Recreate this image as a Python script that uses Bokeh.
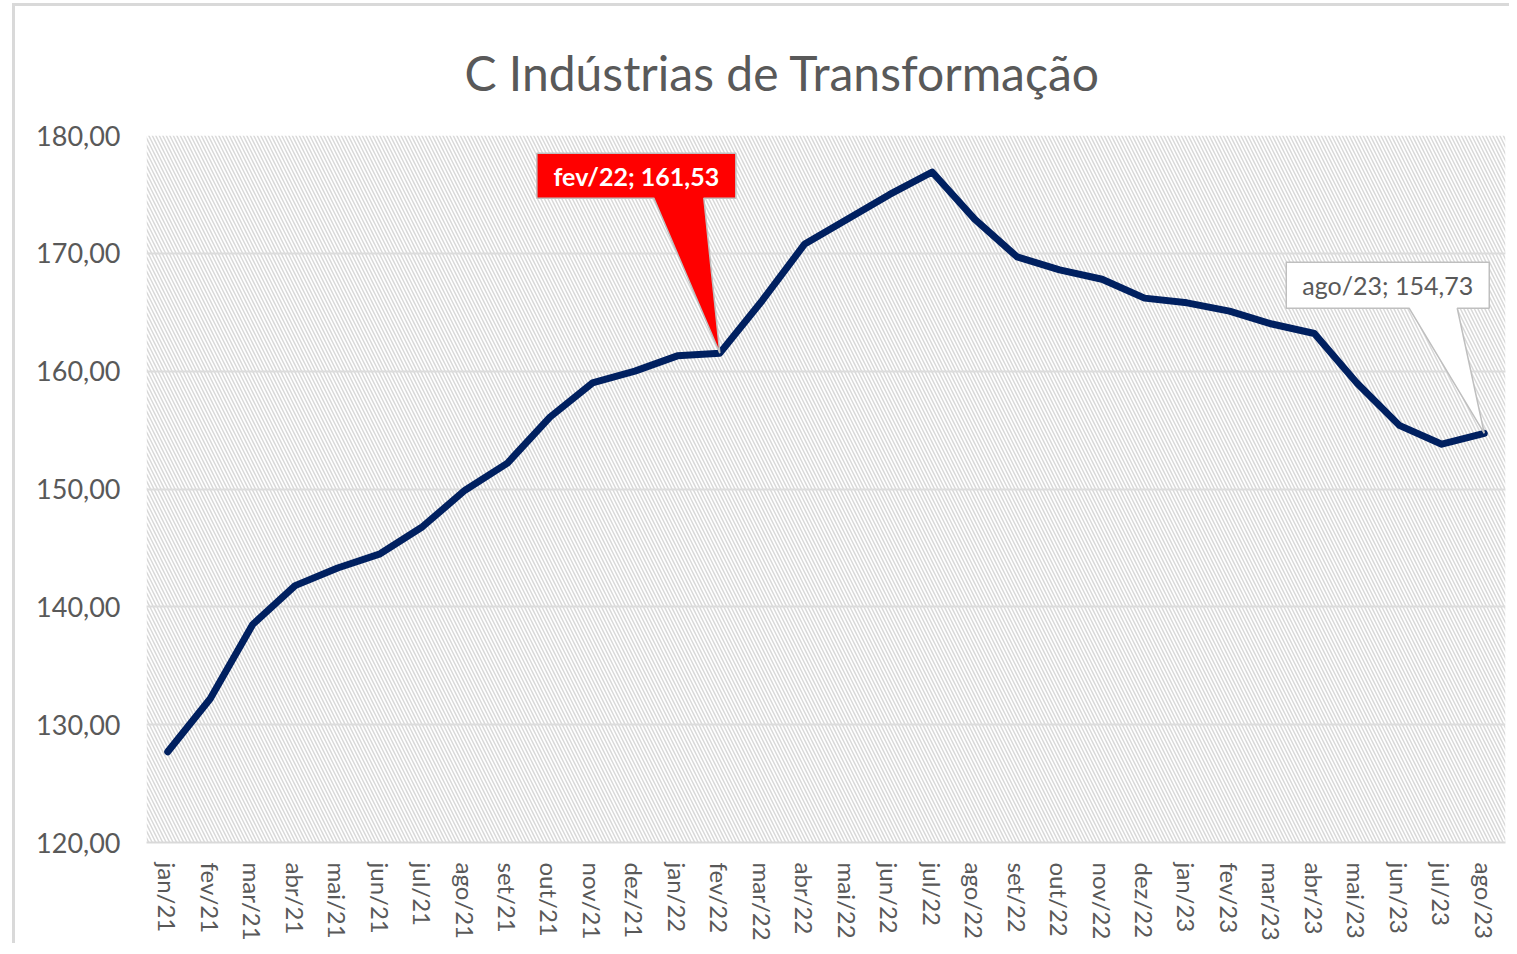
from bokeh.plotting import figure
from bokeh.models import FactorRange, Range1d, FixedTicker, BoxAnnotation, Label, Title
from bokeh.embed import file_html
from bokeh.resources import INLINE

# ---------------- data ----------------
months = ["jan/21", "fev/21", "mar/21", "abr/21", "mai/21", "jun/21", "jul/21", "ago/21",
          "set/21", "out/21", "nov/21", "dez/21", "jan/22", "fev/22", "mar/22", "abr/22",
          "mai/22", "jun/22", "jul/22", "ago/22", "set/22", "out/22", "nov/22", "dez/22",
          "jan/23", "fev/23", "mar/23", "abr/23", "mai/23", "jun/23", "jul/23", "ago/23"]
values = [127.7, 132.2, 138.5, 141.8, 143.3, 144.5, 146.8, 149.9,
          152.2, 156.1, 159.0, 160.0, 161.3, 161.53, 166.0, 170.8,
          172.9, 175.0, 176.9, 172.9, 169.7, 168.6, 167.8, 166.2,
          165.8, 165.1, 164.0, 163.2, 159.0, 155.4, 153.8, 154.73]
y_ticks = [120, 130, 140, 150, 160, 170, 180]
y_tick_labels = ["120,00", "130,00", "140,00", "150,00", "160,00", "170,00", "180,00"]
title_text = "C Indústrias de Transformação"
red_month, red_text = "fev/22", "fev/22; 161,53"
white_month, white_text = "ago/23", "ago/23; 154,73"

# ---------------- layout ----------------
FRAME_W, FRAME_H = 1359, 707
Y0, Y1 = 120, 180
FONT = "Lato"
GREY = "#595959"

p = figure(x_range=FactorRange(factors=months), y_range=Range1d(Y0, Y1),
           frame_width=FRAME_W, frame_height=FRAME_H,
           min_border_left=131, min_border_right=4, min_border_top=128, min_border_bottom=100,
           output_backend="svg", toolbar_location=None)
p.styles = {"margin-left": "12px", "margin-top": "3px",
            "border-left": "3px solid #d9d9d9", "border-top": "3px solid #d9d9d9"}
p.outline_line_color = None
p.background_fill_color = "white"
p.border_fill_color = "white"

p.title = Title(text=title_text, align="left", offset=318, standoff=70,
                text_font=FONT, text_font_size="48px", text_font_style="normal",
                text_color=GREY)

# hatch background of plot area
p.add_layout(BoxAnnotation(fill_alpha=0, line_color=None, hatch_pattern="left_diagonal_line",
                           hatch_color="#d9d9d9", hatch_scale=7, hatch_weight=1.5, level="image"))

p.xgrid.grid_line_color = None
p.ygrid.grid_line_color = "#dcdcdc"
p.ygrid.grid_line_width = 2
p.ygrid.ticker = FixedTicker(ticks=y_ticks)

p.yaxis.ticker = FixedTicker(ticks=y_ticks)
p.yaxis.major_label_overrides = {float(t): s for t, s in zip(y_ticks, y_tick_labels)}
p.yaxis.axis_line_color = None
p.yaxis.major_tick_line_color = None
p.yaxis.minor_tick_line_color = None
p.yaxis.major_label_text_font = FONT
p.yaxis.major_label_text_font_size = "27px"
p.yaxis.major_label_text_color = GREY
p.yaxis.major_label_standoff = 20

p.xaxis.axis_line_color = "#d9d9d9"
p.xaxis.axis_line_width = 2
p.xaxis.major_tick_line_color = None
p.xaxis.minor_tick_line_color = None
p.xaxis.major_label_orientation = "vertical"
p.xaxis.major_label_text_font = FONT
p.xaxis.major_label_text_font_size = "24px"
p.xaxis.major_label_text_color = GREY
p.xaxis.major_label_standoff = 14

p.line(x=months, y=values, line_color="#002060", line_width=7,
       line_join="round", line_cap="round")

# pixel -> data conversion helpers
DX = len(months) / FRAME_W
DY = (Y1 - Y0) / FRAME_H


def callout(month, text, fill, text_color, bold, box, base):
    i = months.index(month)
    tx, ty = i + 0.5, values[i]
    (bx0, bx1, by0, by1), (px0, px1) = box, base
    pts = [(bx0, by1), (bx1, by1), (bx1, by0), (px1, by0), (0, 0), (px0, by0), (bx0, by0)]
    xs = [tx + a * DX for a, _ in pts]
    ys = [ty + b * DY for _, b in pts]
    p.patch(xs, ys, fill_color=fill, line_color="#bfbfbf", line_width=1.5)
    p.add_layout(Label(x=tx + (bx0 + bx1) / 2 * DX, y=ty + (by0 + by1) / 2 * DY, text=text,
                       text_align="center", text_baseline="middle", text_font=FONT,
                       text_font_size="25px", text_color=text_color,
                       text_font_style="bold" if bold else "normal"))


callout(red_month, red_text, "#ff0000", "white", True, (-183, 16, 155, 200), (-66, -16))
callout(white_month, white_text, "white", GREY, False, (-198, 5, 125, 171), (-75, -27))

open("out.html", "w").write(file_html(p, INLINE))
